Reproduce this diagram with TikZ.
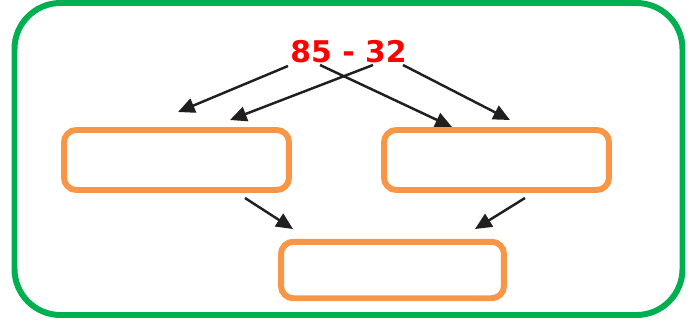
\documentclass[tikz,border=0pt]{standalone}
\usepackage{fontspec}
\usepackage{tikz}
\usetikzlibrary{shapes,arrows.meta,positioning}
\newfontfamily\exprfont{DejaVu Sans}

\definecolor{framegreen}{HTML}{00B050}
\definecolor{boxorange}{HTML}{F79646}
\definecolor{exprred}{HTML}{FF0000}

\tikzset{
	answerbox/.style={draw=boxorange, line width=3.4pt, rounded corners=7pt,
		minimum width=4.5cm, minimum height=1.2cm, inner sep=0pt},
	splitarrow/.style={-{Triangle[length=9.5pt,width=8.5pt]}, line width=1.4pt, black!88}
}

\begin{document}
\begin{tikzpicture}[x=0.02cm, y=-0.02cm]
	\useasboundingbox (0,0) rectangle (693,322);
	
	% Draw the outer frame
	\draw[framegreen, line width=3.4pt, rounded corners=0.92cm] (14.5,3) rectangle (682.5,315);
	
	% The subtraction
	\node[anchor=base, text=exprred, font=\exprfont\bfseries\fontsize{17}{17}\selectfont, inner sep=0pt] (expr) at (348.5,62) {85 - 32};
	
	% The boxes
	\node[answerbox] (tens) at (176.5,160) {};
	\node[answerbox] (ones) at (496.5,160) {};
	\node[answerbox, minimum width=4.46cm, minimum height=1.13cm] (result) at (392.5,270) {};
	
	% Start and end points of the arrows
	\coordinate (eightstart) at (288,66);
	\coordinate (fivestart) at (320,65);
	\coordinate (threestart) at (373,65);
	\coordinate (twostart) at (403,65);
	\coordinate (eightend) at (178,112);
	\coordinate (threeend) at (230,120);
	\coordinate (fiveend) at (452,127);
	\coordinate (twoend) at (510,120);
	\coordinate (tensout) at (245,198);
	\coordinate (onesout) at (525,198);
	\coordinate (tensin) at (293,229);
	\coordinate (onesin) at (475,229);
	
	% Draw the arrows
	\draw[splitarrow] (eightstart) -- (eightend);
	\draw[splitarrow] (threestart) -- (threeend);
	\draw[splitarrow] (fivestart) -- (fiveend);
	\draw[splitarrow] (twostart) -- (twoend);
	\draw[splitarrow] (tensout) -- (tensin);
	\draw[splitarrow] (onesout) -- (onesin);
\end{tikzpicture}
\end{document}
